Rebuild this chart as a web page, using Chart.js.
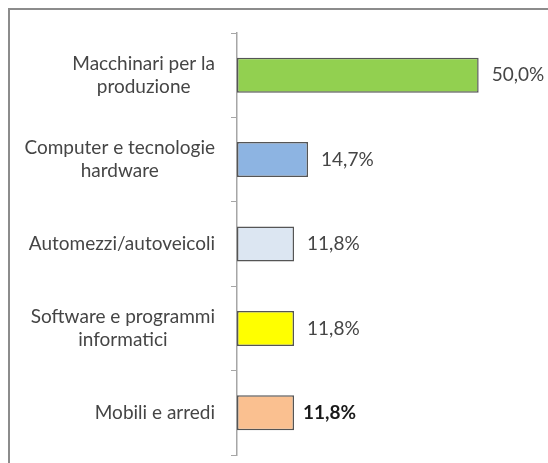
<!DOCTYPE html>
<html>
<head>
<meta charset="utf-8">
<script src="https://cdn.jsdelivr.net/npm/chart.js@4"></script>
<style>
  html, body { margin: 0; padding: 0; background: #fff; }
  #box { width: 548px; height: 463px; }
</style>
</head>
<body>
<div id="box"><canvas id="grafico" width="548" height="463"></canvas></div>
<script>
// dati
var categorie = [
	['Macchinari per la', 'produzione'],
	['Computer e tecnologie', 'hardware'],
	['Automezzi/autoveicoli'],
	['Software e programmi', 'informatici'],
	['Mobili e arredi']
];
var valori = [50.0, 14.7, 11.8, 11.8, 11.8];
var colori = ['#92D050', '#8DB4E2', '#DCE6F2', '#FFFF00', '#FAC090'];
var grassetto = [false, false, false, false, true];

var FONT = 'Lato, Calibri, sans-serif';
var FONT_SIZE = 19;

function formatta(v) {
	return v.toFixed(1).replace('.', ',') + '%';
}

// cornice grigia (bordo sinistro e superiore, il resto e' fuori immagine)
var cornice = {
	id : 'cornice',
	beforeDraw : function(chart) {
		var c = chart.ctx;
		c.save();
		c.strokeStyle = '#8c8c8c';
		c.lineWidth = 2;
		c.beginPath();
		c.moveTo(9, 463);
		c.lineTo(9, 9);
		c.lineTo(548, 9);
		c.stroke();
		c.restore();
	}
};

// etichette delle categorie: blocco allineato a destra, righe centrate tra loro
var etichetteCategorie = {
	id : 'etichetteCategorie',
	afterDraw : function(chart) {
		var c = chart.ctx;
		var y = chart.scales.y;
		var destra = y.right - 22;
		var lh = 23;
		c.save();
		c.font = FONT_SIZE + 'px ' + FONT;
		c.fillStyle = '#454545';
		c.textAlign = 'center';
		c.textBaseline = 'middle';
		categorie.forEach(function(righe, i) {
			var larg = 0;
			righe.forEach(function(r) { larg = Math.max(larg, c.measureText(r).width); });
			var cx = destra - larg / 2;
			var cy = y.getPixelForValue(i) - (righe.length - 1) * lh / 2;
			righe.forEach(function(r, k) {
				c.fillText(r, cx, cy + k * lh);
			});
		});
		c.restore();
	}
};

// valori a destra delle barre
var etichetteValori = {
	id : 'etichetteValori',
	afterDatasetsDraw : function(chart) {
		var c = chart.ctx;
		var meta = chart.getDatasetMeta(0);
		c.save();
		c.textAlign = 'left';
		c.textBaseline = 'middle';
		meta.data.forEach(function(bar, i) {
			c.font = (grassetto[i] ? 'bold ' : '') + FONT_SIZE + 'px ' + FONT;
			c.fillStyle = grassetto[i] ? '#1a1a1a' : '#454545';
			c.fillText(formatta(valori[i]), bar.x + (grassetto[i] ? 9 : 13), bar.y);
		});
		c.restore();
	}
};

var ctx = document.getElementById('grafico');
var myChart = new Chart(ctx, {
	type : 'bar',
	data : {
		labels : categorie,
		datasets : [ {
			data : valori,
			backgroundColor : colori,
			borderColor : '#555555',
			borderWidth : 1.5,
			borderSkipped : false,
			barPercentage : 0.415,
			categoryPercentage : 1
		} ]
	},
	options : {
		indexAxis : 'y',
		responsive : false,
		animation : false,
		layout : {
			padding : { left : 0, right : 21, top : 33, bottom : 8 }
		},
		plugins : {
			legend : { display : false },
			tooltip : { enabled : false }
		},
		scales : {
			x : {
				display : false,
				min : 0,
				max : 60
			},
			y : {
				position : 'left',
				offset : true,
				grid : {
					offset : true,
					drawOnChartArea : false,
					drawTicks : true,
					tickLength : 6,
					color : '#a6a6a6'
				},
				border : { color : '#a6a6a6', width : 1.5 },
				ticks : { display : false },
				afterFit : function(scale) { scale.width = 237; }
			}
		}
	},
	plugins : [ cornice, etichetteCategorie, etichetteValori ]
});
</script>
</body>
</html>
